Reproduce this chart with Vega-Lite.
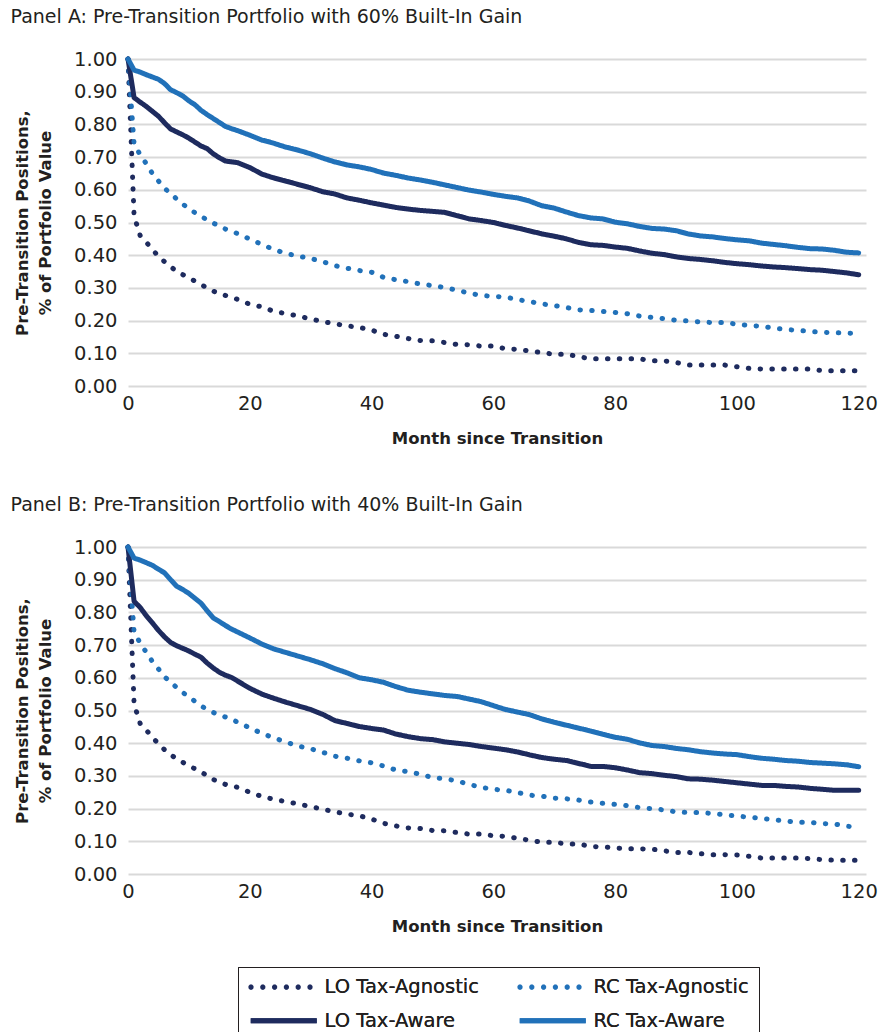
{
"$schema": "https://vega.github.io/schema/vega-lite/v6.json",
"background": "white",
"padding": {"left": 10, "top": 8, "right": 12, "bottom": 0},
"config": {
  "font": "DejaVu Sans",
  "view": {"stroke": null},
  "axis": {"labelFont": "DejaVu Sans", "labelFontSize": 19.5, "labelColor": "#231f20", "titleFont": "DejaVu Sans", "titleFontSize": 16.5, "titleFontWeight": "bold", "titleColor": "#231f20", "ticks": false, "domain": false, "gridColor": "#d9d9d9", "gridWidth": 2},
  "title": {"font": "DejaVu Sans", "fontSize": 19, "fontWeight": "normal", "color": "#231f20", "anchor": "start", "offset": 22, "dx": -4},
  "line": {"strokeCap": "round", "strokeJoin": "round", "strokeWidth": 5},
  "legend": {"title": null, "orient": "none", "legendX": 110, "legendY": 908, "columns": 2, "symbolType": "M-6.6,0H6.6", "symbolSize": 100, "symbolStrokeWidth": 5, "symbolOpacity": 1, "symbolOffset": 26, "labelOffset": 31, "labelFont": "DejaVu Sans", "labelFontSize": 19.5, "labelColor": "#231f20", "columnPadding": 38, "rowPadding": 13, "strokeColor": "#231f20", "padding": 10, "labelLimit": 300},
  "concat": {"spacing": 49}
},
"datasets": {
"panelA": [
{"series":"LO Tax-Agnostic","month":0,"value":1.0},{"series":"LO Tax-Agnostic","month":1,"value":0.52},{"series":"LO Tax-Agnostic","month":2,"value":0.46},{"series":"LO Tax-Agnostic","month":3,"value":0.44},{"series":"LO Tax-Agnostic","month":4,"value":0.417},{"series":"LO Tax-Agnostic","month":5,"value":0.397},{"series":"LO Tax-Agnostic","month":6,"value":0.38},{"series":"LO Tax-Agnostic","month":7,"value":0.365},{"series":"LO Tax-Agnostic","month":8,"value":0.35},{"series":"LO Tax-Agnostic","month":10,"value":0.331},{"series":"LO Tax-Agnostic","month":12,"value":0.31},{"series":"LO Tax-Agnostic","month":14,"value":0.29},{"series":"LO Tax-Agnostic","month":16,"value":0.277},{"series":"LO Tax-Agnostic","month":18,"value":0.265},{"series":"LO Tax-Agnostic","month":20,"value":0.25},{"series":"LO Tax-Agnostic","month":22,"value":0.242},{"series":"LO Tax-Agnostic","month":24,"value":0.228},{"series":"LO Tax-Agnostic","month":26,"value":0.221},{"series":"LO Tax-Agnostic","month":28,"value":0.214},{"series":"LO Tax-Agnostic","month":30,"value":0.205},{"series":"LO Tax-Agnostic","month":32,"value":0.197},{"series":"LO Tax-Agnostic","month":34,"value":0.19},{"series":"LO Tax-Agnostic","month":36,"value":0.184},{"series":"LO Tax-Agnostic","month":38,"value":0.179},{"series":"LO Tax-Agnostic","month":40,"value":0.171},{"series":"LO Tax-Agnostic","month":42,"value":0.158},{"series":"LO Tax-Agnostic","month":44,"value":0.152},{"series":"LO Tax-Agnostic","month":46,"value":0.145},{"series":"LO Tax-Agnostic","month":48,"value":0.139},{"series":"LO Tax-Agnostic","month":50,"value":0.138},{"series":"LO Tax-Agnostic","month":52,"value":0.133},{"series":"LO Tax-Agnostic","month":54,"value":0.127},{"series":"LO Tax-Agnostic","month":56,"value":0.126},{"series":"LO Tax-Agnostic","month":58,"value":0.122},{"series":"LO Tax-Agnostic","month":60,"value":0.122},{"series":"LO Tax-Agnostic","month":62,"value":0.114},{"series":"LO Tax-Agnostic","month":64,"value":0.112},{"series":"LO Tax-Agnostic","month":66,"value":0.107},{"series":"LO Tax-Agnostic","month":68,"value":0.102},{"series":"LO Tax-Agnostic","month":70,"value":0.097},{"series":"LO Tax-Agnostic","month":72,"value":0.097},{"series":"LO Tax-Agnostic","month":74,"value":0.09},{"series":"LO Tax-Agnostic","month":76,"value":0.083},{"series":"LO Tax-Agnostic","month":78,"value":0.083},{"series":"LO Tax-Agnostic","month":80,"value":0.083},{"series":"LO Tax-Agnostic","month":82,"value":0.083},{"series":"LO Tax-Agnostic","month":84,"value":0.083},{"series":"LO Tax-Agnostic","month":86,"value":0.077},{"series":"LO Tax-Agnostic","month":88,"value":0.077},{"series":"LO Tax-Agnostic","month":90,"value":0.072},{"series":"LO Tax-Agnostic","month":92,"value":0.064},{"series":"LO Tax-Agnostic","month":94,"value":0.064},{"series":"LO Tax-Agnostic","month":96,"value":0.064},{"series":"LO Tax-Agnostic","month":98,"value":0.064},{"series":"LO Tax-Agnostic","month":100,"value":0.059},{"series":"LO Tax-Agnostic","month":102,"value":0.054},{"series":"LO Tax-Agnostic","month":104,"value":0.052},{"series":"LO Tax-Agnostic","month":106,"value":0.052},{"series":"LO Tax-Agnostic","month":108,"value":0.052},{"series":"LO Tax-Agnostic","month":110,"value":0.052},{"series":"LO Tax-Agnostic","month":112,"value":0.052},{"series":"LO Tax-Agnostic","month":114,"value":0.047},{"series":"LO Tax-Agnostic","month":116,"value":0.047},{"series":"LO Tax-Agnostic","month":118,"value":0.047},{"series":"LO Tax-Agnostic","month":120,"value":0.047},
{"series":"RC Tax-Agnostic","month":0,"value":1.0},{"series":"RC Tax-Agnostic","month":1,"value":0.74},{"series":"RC Tax-Agnostic","month":2,"value":0.707},{"series":"RC Tax-Agnostic","month":3,"value":0.68},{"series":"RC Tax-Agnostic","month":4,"value":0.65},{"series":"RC Tax-Agnostic","month":5,"value":0.627},{"series":"RC Tax-Agnostic","month":6,"value":0.605},{"series":"RC Tax-Agnostic","month":7,"value":0.588},{"series":"RC Tax-Agnostic","month":8,"value":0.572},{"series":"RC Tax-Agnostic","month":9,"value":0.556},{"series":"RC Tax-Agnostic","month":10,"value":0.543},{"series":"RC Tax-Agnostic","month":11,"value":0.53},{"series":"RC Tax-Agnostic","month":12,"value":0.519},{"series":"RC Tax-Agnostic","month":13,"value":0.508},{"series":"RC Tax-Agnostic","month":14,"value":0.498},{"series":"RC Tax-Agnostic","month":15,"value":0.49},{"series":"RC Tax-Agnostic","month":16,"value":0.48},{"series":"RC Tax-Agnostic","month":17,"value":0.474},{"series":"RC Tax-Agnostic","month":18,"value":0.466},{"series":"RC Tax-Agnostic","month":19,"value":0.458},{"series":"RC Tax-Agnostic","month":20,"value":0.449},{"series":"RC Tax-Agnostic","month":22,"value":0.433},{"series":"RC Tax-Agnostic","month":24,"value":0.417},{"series":"RC Tax-Agnostic","month":26,"value":0.405},{"series":"RC Tax-Agnostic","month":28,"value":0.397},{"series":"RC Tax-Agnostic","month":30,"value":0.39},{"series":"RC Tax-Agnostic","month":32,"value":0.38},{"series":"RC Tax-Agnostic","month":34,"value":0.368},{"series":"RC Tax-Agnostic","month":36,"value":0.36},{"series":"RC Tax-Agnostic","month":38,"value":0.353},{"series":"RC Tax-Agnostic","month":40,"value":0.348},{"series":"RC Tax-Agnostic","month":42,"value":0.332},{"series":"RC Tax-Agnostic","month":44,"value":0.325},{"series":"RC Tax-Agnostic","month":46,"value":0.319},{"series":"RC Tax-Agnostic","month":48,"value":0.312},{"series":"RC Tax-Agnostic","month":50,"value":0.307},{"series":"RC Tax-Agnostic","month":52,"value":0.301},{"series":"RC Tax-Agnostic","month":54,"value":0.293},{"series":"RC Tax-Agnostic","month":56,"value":0.284},{"series":"RC Tax-Agnostic","month":58,"value":0.277},{"series":"RC Tax-Agnostic","month":60,"value":0.274},{"series":"RC Tax-Agnostic","month":62,"value":0.272},{"series":"RC Tax-Agnostic","month":64,"value":0.264},{"series":"RC Tax-Agnostic","month":66,"value":0.258},{"series":"RC Tax-Agnostic","month":68,"value":0.251},{"series":"RC Tax-Agnostic","month":70,"value":0.246},{"series":"RC Tax-Agnostic","month":72,"value":0.24},{"series":"RC Tax-Agnostic","month":74,"value":0.233},{"series":"RC Tax-Agnostic","month":76,"value":0.231},{"series":"RC Tax-Agnostic","month":78,"value":0.228},{"series":"RC Tax-Agnostic","month":80,"value":0.225},{"series":"RC Tax-Agnostic","month":82,"value":0.221},{"series":"RC Tax-Agnostic","month":84,"value":0.214},{"series":"RC Tax-Agnostic","month":86,"value":0.21},{"series":"RC Tax-Agnostic","month":88,"value":0.206},{"series":"RC Tax-Agnostic","month":90,"value":0.201},{"series":"RC Tax-Agnostic","month":92,"value":0.199},{"series":"RC Tax-Agnostic","month":94,"value":0.196},{"series":"RC Tax-Agnostic","month":96,"value":0.194},{"series":"RC Tax-Agnostic","month":98,"value":0.194},{"series":"RC Tax-Agnostic","month":100,"value":0.189},{"series":"RC Tax-Agnostic","month":102,"value":0.185},{"series":"RC Tax-Agnostic","month":104,"value":0.183},{"series":"RC Tax-Agnostic","month":106,"value":0.177},{"series":"RC Tax-Agnostic","month":108,"value":0.173},{"series":"RC Tax-Agnostic","month":110,"value":0.17},{"series":"RC Tax-Agnostic","month":112,"value":0.167},{"series":"RC Tax-Agnostic","month":114,"value":0.164},{"series":"RC Tax-Agnostic","month":116,"value":0.163},{"series":"RC Tax-Agnostic","month":119,"value":0.161},
{"series":"LO Tax-Aware","month":0,"value":1.0},{"series":"LO Tax-Aware","month":1,"value":0.882},{"series":"LO Tax-Aware","month":2,"value":0.868},{"series":"LO Tax-Aware","month":3,"value":0.855},{"series":"LO Tax-Aware","month":4,"value":0.84},{"series":"LO Tax-Aware","month":5,"value":0.825},{"series":"LO Tax-Aware","month":6,"value":0.805},{"series":"LO Tax-Aware","month":7,"value":0.786},{"series":"LO Tax-Aware","month":8,"value":0.777},{"series":"LO Tax-Aware","month":9,"value":0.768},{"series":"LO Tax-Aware","month":10,"value":0.758},{"series":"LO Tax-Aware","month":11,"value":0.746},{"series":"LO Tax-Aware","month":12,"value":0.734},{"series":"LO Tax-Aware","month":13,"value":0.726},{"series":"LO Tax-Aware","month":14,"value":0.71},{"series":"LO Tax-Aware","month":15,"value":0.698},{"series":"LO Tax-Aware","month":16,"value":0.688},{"series":"LO Tax-Aware","month":18,"value":0.683},{"series":"LO Tax-Aware","month":20,"value":0.668},{"series":"LO Tax-Aware","month":22,"value":0.648},{"series":"LO Tax-Aware","month":24,"value":0.636},{"series":"LO Tax-Aware","month":26,"value":0.626},{"series":"LO Tax-Aware","month":28,"value":0.616},{"series":"LO Tax-Aware","month":30,"value":0.606},{"series":"LO Tax-Aware","month":32,"value":0.594},{"series":"LO Tax-Aware","month":34,"value":0.587},{"series":"LO Tax-Aware","month":36,"value":0.575},{"series":"LO Tax-Aware","month":38,"value":0.568},{"series":"LO Tax-Aware","month":40,"value":0.56},{"series":"LO Tax-Aware","month":42,"value":0.553},{"series":"LO Tax-Aware","month":44,"value":0.546},{"series":"LO Tax-Aware","month":46,"value":0.541},{"series":"LO Tax-Aware","month":48,"value":0.537},{"series":"LO Tax-Aware","month":50,"value":0.534},{"series":"LO Tax-Aware","month":52,"value":0.531},{"series":"LO Tax-Aware","month":54,"value":0.521},{"series":"LO Tax-Aware","month":56,"value":0.511},{"series":"LO Tax-Aware","month":58,"value":0.506},{"series":"LO Tax-Aware","month":60,"value":0.5},{"series":"LO Tax-Aware","month":62,"value":0.491},{"series":"LO Tax-Aware","month":64,"value":0.483},{"series":"LO Tax-Aware","month":66,"value":0.474},{"series":"LO Tax-Aware","month":68,"value":0.465},{"series":"LO Tax-Aware","month":70,"value":0.458},{"series":"LO Tax-Aware","month":72,"value":0.45},{"series":"LO Tax-Aware","month":74,"value":0.439},{"series":"LO Tax-Aware","month":76,"value":0.432},{"series":"LO Tax-Aware","month":78,"value":0.43},{"series":"LO Tax-Aware","month":80,"value":0.425},{"series":"LO Tax-Aware","month":82,"value":0.421},{"series":"LO Tax-Aware","month":84,"value":0.413},{"series":"LO Tax-Aware","month":86,"value":0.406},{"series":"LO Tax-Aware","month":88,"value":0.402},{"series":"LO Tax-Aware","month":90,"value":0.395},{"series":"LO Tax-Aware","month":92,"value":0.39},{"series":"LO Tax-Aware","month":94,"value":0.387},{"series":"LO Tax-Aware","month":96,"value":0.383},{"series":"LO Tax-Aware","month":98,"value":0.378},{"series":"LO Tax-Aware","month":100,"value":0.374},{"series":"LO Tax-Aware","month":102,"value":0.371},{"series":"LO Tax-Aware","month":104,"value":0.367},{"series":"LO Tax-Aware","month":106,"value":0.364},{"series":"LO Tax-Aware","month":108,"value":0.362},{"series":"LO Tax-Aware","month":110,"value":0.359},{"series":"LO Tax-Aware","month":112,"value":0.356},{"series":"LO Tax-Aware","month":114,"value":0.354},{"series":"LO Tax-Aware","month":116,"value":0.35},{"series":"LO Tax-Aware","month":118,"value":0.346},{"series":"LO Tax-Aware","month":120,"value":0.34},
{"series":"RC Tax-Aware","month":0,"value":1.0},{"series":"RC Tax-Aware","month":1,"value":0.966},{"series":"RC Tax-Aware","month":2,"value":0.96},{"series":"RC Tax-Aware","month":3,"value":0.952},{"series":"RC Tax-Aware","month":4,"value":0.945},{"series":"RC Tax-Aware","month":5,"value":0.938},{"series":"RC Tax-Aware","month":6,"value":0.925},{"series":"RC Tax-Aware","month":7,"value":0.906},{"series":"RC Tax-Aware","month":8,"value":0.897},{"series":"RC Tax-Aware","month":9,"value":0.887},{"series":"RC Tax-Aware","month":10,"value":0.872},{"series":"RC Tax-Aware","month":11,"value":0.86},{"series":"RC Tax-Aware","month":12,"value":0.843},{"series":"RC Tax-Aware","month":13,"value":0.83},{"series":"RC Tax-Aware","month":14,"value":0.818},{"series":"RC Tax-Aware","month":15,"value":0.806},{"series":"RC Tax-Aware","month":16,"value":0.794},{"series":"RC Tax-Aware","month":17,"value":0.787},{"series":"RC Tax-Aware","month":18,"value":0.781},{"series":"RC Tax-Aware","month":20,"value":0.767},{"series":"RC Tax-Aware","month":22,"value":0.752},{"series":"RC Tax-Aware","month":24,"value":0.742},{"series":"RC Tax-Aware","month":26,"value":0.73},{"series":"RC Tax-Aware","month":28,"value":0.721},{"series":"RC Tax-Aware","month":30,"value":0.71},{"series":"RC Tax-Aware","month":32,"value":0.697},{"series":"RC Tax-Aware","month":34,"value":0.685},{"series":"RC Tax-Aware","month":36,"value":0.676},{"series":"RC Tax-Aware","month":38,"value":0.67},{"series":"RC Tax-Aware","month":40,"value":0.662},{"series":"RC Tax-Aware","month":42,"value":0.651},{"series":"RC Tax-Aware","month":44,"value":0.644},{"series":"RC Tax-Aware","month":46,"value":0.636},{"series":"RC Tax-Aware","month":48,"value":0.63},{"series":"RC Tax-Aware","month":50,"value":0.623},{"series":"RC Tax-Aware","month":52,"value":0.615},{"series":"RC Tax-Aware","month":54,"value":0.607},{"series":"RC Tax-Aware","month":56,"value":0.599},{"series":"RC Tax-Aware","month":58,"value":0.593},{"series":"RC Tax-Aware","month":60,"value":0.586},{"series":"RC Tax-Aware","month":62,"value":0.58},{"series":"RC Tax-Aware","month":64,"value":0.575},{"series":"RC Tax-Aware","month":66,"value":0.565},{"series":"RC Tax-Aware","month":68,"value":0.551},{"series":"RC Tax-Aware","month":70,"value":0.544},{"series":"RC Tax-Aware","month":72,"value":0.532},{"series":"RC Tax-Aware","month":74,"value":0.521},{"series":"RC Tax-Aware","month":76,"value":0.514},{"series":"RC Tax-Aware","month":78,"value":0.511},{"series":"RC Tax-Aware","month":80,"value":0.501},{"series":"RC Tax-Aware","month":82,"value":0.496},{"series":"RC Tax-Aware","month":84,"value":0.488},{"series":"RC Tax-Aware","month":86,"value":0.482},{"series":"RC Tax-Aware","month":88,"value":0.48},{"series":"RC Tax-Aware","month":90,"value":0.475},{"series":"RC Tax-Aware","month":92,"value":0.465},{"series":"RC Tax-Aware","month":94,"value":0.459},{"series":"RC Tax-Aware","month":96,"value":0.456},{"series":"RC Tax-Aware","month":98,"value":0.451},{"series":"RC Tax-Aware","month":100,"value":0.447},{"series":"RC Tax-Aware","month":102,"value":0.444},{"series":"RC Tax-Aware","month":104,"value":0.437},{"series":"RC Tax-Aware","month":106,"value":0.433},{"series":"RC Tax-Aware","month":108,"value":0.429},{"series":"RC Tax-Aware","month":110,"value":0.424},{"series":"RC Tax-Aware","month":112,"value":0.42},{"series":"RC Tax-Aware","month":114,"value":0.419},{"series":"RC Tax-Aware","month":116,"value":0.415},{"series":"RC Tax-Aware","month":118,"value":0.409},{"series":"RC Tax-Aware","month":120,"value":0.407}
],
"panelB": [
{"series":"LO Tax-Agnostic","month":0,"value":1.0},{"series":"LO Tax-Agnostic","month":1,"value":0.52},{"series":"LO Tax-Agnostic","month":2,"value":0.46},{"series":"LO Tax-Agnostic","month":3,"value":0.44},{"series":"LO Tax-Agnostic","month":4,"value":0.418},{"series":"LO Tax-Agnostic","month":5,"value":0.398},{"series":"LO Tax-Agnostic","month":6,"value":0.38},{"series":"LO Tax-Agnostic","month":7,"value":0.365},{"series":"LO Tax-Agnostic","month":8,"value":0.352},{"series":"LO Tax-Agnostic","month":10,"value":0.331},{"series":"LO Tax-Agnostic","month":12,"value":0.312},{"series":"LO Tax-Agnostic","month":14,"value":0.289},{"series":"LO Tax-Agnostic","month":16,"value":0.274},{"series":"LO Tax-Agnostic","month":18,"value":0.265},{"series":"LO Tax-Agnostic","month":20,"value":0.25},{"series":"LO Tax-Agnostic","month":22,"value":0.237},{"series":"LO Tax-Agnostic","month":24,"value":0.228},{"series":"LO Tax-Agnostic","month":26,"value":0.221},{"series":"LO Tax-Agnostic","month":28,"value":0.214},{"series":"LO Tax-Agnostic","month":30,"value":0.206},{"series":"LO Tax-Agnostic","month":32,"value":0.198},{"series":"LO Tax-Agnostic","month":34,"value":0.19},{"series":"LO Tax-Agnostic","month":36,"value":0.183},{"series":"LO Tax-Agnostic","month":38,"value":0.178},{"series":"LO Tax-Agnostic","month":40,"value":0.168},{"series":"LO Tax-Agnostic","month":42,"value":0.155},{"series":"LO Tax-Agnostic","month":44,"value":0.147},{"series":"LO Tax-Agnostic","month":46,"value":0.141},{"series":"LO Tax-Agnostic","month":48,"value":0.139},{"series":"LO Tax-Agnostic","month":50,"value":0.133},{"series":"LO Tax-Agnostic","month":52,"value":0.132},{"series":"LO Tax-Agnostic","month":54,"value":0.127},{"series":"LO Tax-Agnostic","month":56,"value":0.122},{"series":"LO Tax-Agnostic","month":58,"value":0.122},{"series":"LO Tax-Agnostic","month":60,"value":0.117},{"series":"LO Tax-Agnostic","month":62,"value":0.115},{"series":"LO Tax-Agnostic","month":64,"value":0.109},{"series":"LO Tax-Agnostic","month":66,"value":0.103},{"series":"LO Tax-Agnostic","month":68,"value":0.097},{"series":"LO Tax-Agnostic","month":70,"value":0.097},{"series":"LO Tax-Agnostic","month":72,"value":0.092},{"series":"LO Tax-Agnostic","month":74,"value":0.092},{"series":"LO Tax-Agnostic","month":76,"value":0.084},{"series":"LO Tax-Agnostic","month":78,"value":0.083},{"series":"LO Tax-Agnostic","month":80,"value":0.08},{"series":"LO Tax-Agnostic","month":82,"value":0.077},{"series":"LO Tax-Agnostic","month":84,"value":0.077},{"series":"LO Tax-Agnostic","month":86,"value":0.076},{"series":"LO Tax-Agnostic","month":88,"value":0.071},{"series":"LO Tax-Agnostic","month":90,"value":0.066},{"series":"LO Tax-Agnostic","month":92,"value":0.066},{"series":"LO Tax-Agnostic","month":94,"value":0.062},{"series":"LO Tax-Agnostic","month":96,"value":0.059},{"series":"LO Tax-Agnostic","month":98,"value":0.059},{"series":"LO Tax-Agnostic","month":100,"value":0.058},{"series":"LO Tax-Agnostic","month":102,"value":0.054},{"series":"LO Tax-Agnostic","month":104,"value":0.049},{"series":"LO Tax-Agnostic","month":106,"value":0.049},{"series":"LO Tax-Agnostic","month":108,"value":0.049},{"series":"LO Tax-Agnostic","month":110,"value":0.049},{"series":"LO Tax-Agnostic","month":112,"value":0.047},{"series":"LO Tax-Agnostic","month":114,"value":0.044},{"series":"LO Tax-Agnostic","month":116,"value":0.042},{"series":"LO Tax-Agnostic","month":118,"value":0.042},{"series":"LO Tax-Agnostic","month":120,"value":0.042},
{"series":"RC Tax-Agnostic","month":0,"value":1.0},{"series":"RC Tax-Agnostic","month":1,"value":0.74},{"series":"RC Tax-Agnostic","month":2,"value":0.706},{"series":"RC Tax-Agnostic","month":3,"value":0.678},{"series":"RC Tax-Agnostic","month":4,"value":0.65},{"series":"RC Tax-Agnostic","month":5,"value":0.627},{"series":"RC Tax-Agnostic","month":6,"value":0.603},{"series":"RC Tax-Agnostic","month":7,"value":0.587},{"series":"RC Tax-Agnostic","month":8,"value":0.57},{"series":"RC Tax-Agnostic","month":9,"value":0.555},{"series":"RC Tax-Agnostic","month":10,"value":0.542},{"series":"RC Tax-Agnostic","month":11,"value":0.528},{"series":"RC Tax-Agnostic","month":12,"value":0.514},{"series":"RC Tax-Agnostic","month":13,"value":0.503},{"series":"RC Tax-Agnostic","month":14,"value":0.494},{"series":"RC Tax-Agnostic","month":15,"value":0.487},{"series":"RC Tax-Agnostic","month":16,"value":0.48},{"series":"RC Tax-Agnostic","month":17,"value":0.474},{"series":"RC Tax-Agnostic","month":18,"value":0.464},{"series":"RC Tax-Agnostic","month":19,"value":0.456},{"series":"RC Tax-Agnostic","month":20,"value":0.447},{"series":"RC Tax-Agnostic","month":22,"value":0.43},{"series":"RC Tax-Agnostic","month":24,"value":0.416},{"series":"RC Tax-Agnostic","month":26,"value":0.403},{"series":"RC Tax-Agnostic","month":28,"value":0.391},{"series":"RC Tax-Agnostic","month":30,"value":0.383},{"series":"RC Tax-Agnostic","month":32,"value":0.372},{"series":"RC Tax-Agnostic","month":34,"value":0.36},{"series":"RC Tax-Agnostic","month":36,"value":0.354},{"series":"RC Tax-Agnostic","month":38,"value":0.346},{"series":"RC Tax-Agnostic","month":40,"value":0.34},{"series":"RC Tax-Agnostic","month":42,"value":0.33},{"series":"RC Tax-Agnostic","month":44,"value":0.318},{"series":"RC Tax-Agnostic","month":46,"value":0.313},{"series":"RC Tax-Agnostic","month":48,"value":0.305},{"series":"RC Tax-Agnostic","month":50,"value":0.295},{"series":"RC Tax-Agnostic","month":52,"value":0.291},{"series":"RC Tax-Agnostic","month":54,"value":0.285},{"series":"RC Tax-Agnostic","month":56,"value":0.274},{"series":"RC Tax-Agnostic","month":58,"value":0.265},{"series":"RC Tax-Agnostic","month":60,"value":0.259},{"series":"RC Tax-Agnostic","month":62,"value":0.256},{"series":"RC Tax-Agnostic","month":64,"value":0.249},{"series":"RC Tax-Agnostic","month":66,"value":0.241},{"series":"RC Tax-Agnostic","month":68,"value":0.238},{"series":"RC Tax-Agnostic","month":70,"value":0.232},{"series":"RC Tax-Agnostic","month":72,"value":0.23},{"series":"RC Tax-Agnostic","month":74,"value":0.226},{"series":"RC Tax-Agnostic","month":76,"value":0.22},{"series":"RC Tax-Agnostic","month":78,"value":0.216},{"series":"RC Tax-Agnostic","month":80,"value":0.213},{"series":"RC Tax-Agnostic","month":82,"value":0.209},{"series":"RC Tax-Agnostic","month":84,"value":0.203},{"series":"RC Tax-Agnostic","month":86,"value":0.2},{"series":"RC Tax-Agnostic","month":88,"value":0.196},{"series":"RC Tax-Agnostic","month":90,"value":0.19},{"series":"RC Tax-Agnostic","month":92,"value":0.188},{"series":"RC Tax-Agnostic","month":94,"value":0.188},{"series":"RC Tax-Agnostic","month":96,"value":0.185},{"series":"RC Tax-Agnostic","month":98,"value":0.181},{"series":"RC Tax-Agnostic","month":100,"value":0.177},{"series":"RC Tax-Agnostic","month":102,"value":0.174},{"series":"RC Tax-Agnostic","month":104,"value":0.17},{"series":"RC Tax-Agnostic","month":106,"value":0.166},{"series":"RC Tax-Agnostic","month":108,"value":0.162},{"series":"RC Tax-Agnostic","month":110,"value":0.158},{"series":"RC Tax-Agnostic","month":112,"value":0.158},{"series":"RC Tax-Agnostic","month":114,"value":0.154},{"series":"RC Tax-Agnostic","month":116,"value":0.153},{"series":"RC Tax-Agnostic","month":118,"value":0.146},{"series":"RC Tax-Agnostic","month":119,"value":0.145},
{"series":"LO Tax-Aware","month":0,"value":1.0},{"series":"LO Tax-Aware","month":1,"value":0.834},{"series":"LO Tax-Aware","month":2,"value":0.815},{"series":"LO Tax-Aware","month":3,"value":0.79},{"series":"LO Tax-Aware","month":4,"value":0.768},{"series":"LO Tax-Aware","month":5,"value":0.745},{"series":"LO Tax-Aware","month":6,"value":0.725},{"series":"LO Tax-Aware","month":7,"value":0.708},{"series":"LO Tax-Aware","month":8,"value":0.698},{"series":"LO Tax-Aware","month":9,"value":0.69},{"series":"LO Tax-Aware","month":10,"value":0.682},{"series":"LO Tax-Aware","month":11,"value":0.672},{"series":"LO Tax-Aware","month":12,"value":0.663},{"series":"LO Tax-Aware","month":13,"value":0.645},{"series":"LO Tax-Aware","month":14,"value":0.63},{"series":"LO Tax-Aware","month":15,"value":0.617},{"series":"LO Tax-Aware","month":16,"value":0.608},{"series":"LO Tax-Aware","month":17,"value":0.601},{"series":"LO Tax-Aware","month":18,"value":0.59},{"series":"LO Tax-Aware","month":20,"value":0.568},{"series":"LO Tax-Aware","month":22,"value":0.55},{"series":"LO Tax-Aware","month":24,"value":0.537},{"series":"LO Tax-Aware","month":26,"value":0.525},{"series":"LO Tax-Aware","month":28,"value":0.514},{"series":"LO Tax-Aware","month":30,"value":0.503},{"series":"LO Tax-Aware","month":32,"value":0.488},{"series":"LO Tax-Aware","month":34,"value":0.469},{"series":"LO Tax-Aware","month":36,"value":0.46},{"series":"LO Tax-Aware","month":38,"value":0.451},{"series":"LO Tax-Aware","month":40,"value":0.445},{"series":"LO Tax-Aware","month":42,"value":0.44},{"series":"LO Tax-Aware","month":44,"value":0.428},{"series":"LO Tax-Aware","month":46,"value":0.42},{"series":"LO Tax-Aware","month":48,"value":0.414},{"series":"LO Tax-Aware","month":50,"value":0.411},{"series":"LO Tax-Aware","month":52,"value":0.404},{"series":"LO Tax-Aware","month":54,"value":0.4},{"series":"LO Tax-Aware","month":56,"value":0.396},{"series":"LO Tax-Aware","month":58,"value":0.39},{"series":"LO Tax-Aware","month":60,"value":0.385},{"series":"LO Tax-Aware","month":62,"value":0.38},{"series":"LO Tax-Aware","month":64,"value":0.373},{"series":"LO Tax-Aware","month":66,"value":0.364},{"series":"LO Tax-Aware","month":68,"value":0.356},{"series":"LO Tax-Aware","month":70,"value":0.351},{"series":"LO Tax-Aware","month":72,"value":0.347},{"series":"LO Tax-Aware","month":74,"value":0.338},{"series":"LO Tax-Aware","month":76,"value":0.329},{"series":"LO Tax-Aware","month":78,"value":0.329},{"series":"LO Tax-Aware","month":80,"value":0.325},{"series":"LO Tax-Aware","month":82,"value":0.318},{"series":"LO Tax-Aware","month":84,"value":0.31},{"series":"LO Tax-Aware","month":86,"value":0.307},{"series":"LO Tax-Aware","month":88,"value":0.302},{"series":"LO Tax-Aware","month":90,"value":0.298},{"series":"LO Tax-Aware","month":92,"value":0.291},{"series":"LO Tax-Aware","month":94,"value":0.29},{"series":"LO Tax-Aware","month":96,"value":0.287},{"series":"LO Tax-Aware","month":98,"value":0.283},{"series":"LO Tax-Aware","month":100,"value":0.279},{"series":"LO Tax-Aware","month":102,"value":0.275},{"series":"LO Tax-Aware","month":104,"value":0.271},{"series":"LO Tax-Aware","month":106,"value":0.271},{"series":"LO Tax-Aware","month":108,"value":0.268},{"series":"LO Tax-Aware","month":110,"value":0.266},{"series":"LO Tax-Aware","month":112,"value":0.262},{"series":"LO Tax-Aware","month":114,"value":0.259},{"series":"LO Tax-Aware","month":116,"value":0.256},{"series":"LO Tax-Aware","month":118,"value":0.256},{"series":"LO Tax-Aware","month":120,"value":0.256},
{"series":"RC Tax-Aware","month":0,"value":1.0},{"series":"RC Tax-Aware","month":1,"value":0.966},{"series":"RC Tax-Aware","month":2,"value":0.96},{"series":"RC Tax-Aware","month":3,"value":0.952},{"series":"RC Tax-Aware","month":4,"value":0.944},{"series":"RC Tax-Aware","month":5,"value":0.932},{"series":"RC Tax-Aware","month":6,"value":0.921},{"series":"RC Tax-Aware","month":7,"value":0.9},{"series":"RC Tax-Aware","month":8,"value":0.88},{"series":"RC Tax-Aware","month":9,"value":0.87},{"series":"RC Tax-Aware","month":10,"value":0.858},{"series":"RC Tax-Aware","month":11,"value":0.843},{"series":"RC Tax-Aware","month":12,"value":0.828},{"series":"RC Tax-Aware","month":13,"value":0.805},{"series":"RC Tax-Aware","month":14,"value":0.783},{"series":"RC Tax-Aware","month":15,"value":0.772},{"series":"RC Tax-Aware","month":16,"value":0.76},{"series":"RC Tax-Aware","month":17,"value":0.749},{"series":"RC Tax-Aware","month":18,"value":0.74},{"series":"RC Tax-Aware","month":20,"value":0.722},{"series":"RC Tax-Aware","month":22,"value":0.703},{"series":"RC Tax-Aware","month":24,"value":0.688},{"series":"RC Tax-Aware","month":26,"value":0.677},{"series":"RC Tax-Aware","month":28,"value":0.666},{"series":"RC Tax-Aware","month":30,"value":0.655},{"series":"RC Tax-Aware","month":32,"value":0.643},{"series":"RC Tax-Aware","month":34,"value":0.628},{"series":"RC Tax-Aware","month":36,"value":0.615},{"series":"RC Tax-Aware","month":38,"value":0.6},{"series":"RC Tax-Aware","month":40,"value":0.594},{"series":"RC Tax-Aware","month":42,"value":0.586},{"series":"RC Tax-Aware","month":44,"value":0.573},{"series":"RC Tax-Aware","month":46,"value":0.562},{"series":"RC Tax-Aware","month":48,"value":0.556},{"series":"RC Tax-Aware","month":50,"value":0.551},{"series":"RC Tax-Aware","month":52,"value":0.546},{"series":"RC Tax-Aware","month":54,"value":0.543},{"series":"RC Tax-Aware","month":56,"value":0.535},{"series":"RC Tax-Aware","month":58,"value":0.527},{"series":"RC Tax-Aware","month":60,"value":0.515},{"series":"RC Tax-Aware","month":62,"value":0.503},{"series":"RC Tax-Aware","month":64,"value":0.495},{"series":"RC Tax-Aware","month":66,"value":0.487},{"series":"RC Tax-Aware","month":68,"value":0.474},{"series":"RC Tax-Aware","month":70,"value":0.464},{"series":"RC Tax-Aware","month":72,"value":0.455},{"series":"RC Tax-Aware","month":74,"value":0.446},{"series":"RC Tax-Aware","month":76,"value":0.437},{"series":"RC Tax-Aware","month":78,"value":0.427},{"series":"RC Tax-Aware","month":80,"value":0.418},{"series":"RC Tax-Aware","month":82,"value":0.412},{"series":"RC Tax-Aware","month":84,"value":0.401},{"series":"RC Tax-Aware","month":86,"value":0.393},{"series":"RC Tax-Aware","month":88,"value":0.39},{"series":"RC Tax-Aware","month":90,"value":0.384},{"series":"RC Tax-Aware","month":92,"value":0.38},{"series":"RC Tax-Aware","month":94,"value":0.374},{"series":"RC Tax-Aware","month":96,"value":0.37},{"series":"RC Tax-Aware","month":98,"value":0.367},{"series":"RC Tax-Aware","month":100,"value":0.365},{"series":"RC Tax-Aware","month":102,"value":0.359},{"series":"RC Tax-Aware","month":104,"value":0.354},{"series":"RC Tax-Aware","month":106,"value":0.351},{"series":"RC Tax-Aware","month":108,"value":0.347},{"series":"RC Tax-Aware","month":110,"value":0.345},{"series":"RC Tax-Aware","month":112,"value":0.341},{"series":"RC Tax-Aware","month":114,"value":0.339},{"series":"RC Tax-Aware","month":116,"value":0.337},{"series":"RC Tax-Aware","month":118,"value":0.334},{"series":"RC Tax-Aware","month":120,"value":0.328}
]
},
"vconcat": [
{
  "title": {"text": "Panel A: Pre-Transition Portfolio with 60% Built-In Gain"},
  "width": 738, "height": 327,
  "data": {"name": "panelA"},
  "encoding": {
    "x": {"field": "month", "type": "quantitative", "scale": {"domain": [0, 121.2], "nice": false, "zero": false}, "axis": {"values": [0,20,40,60,80,100,120], "grid": false, "title": "Month since Transition", "labelPadding": 8, "titlePadding": 18, "labelFlush": false}},
    "y": {"field": "value", "type": "quantitative", "scale": {"domain": [0, 1], "nice": false}, "axis": {"values": [0,0.1,0.2,0.3,0.4,0.5,0.6,0.7,0.8,0.9,1], "format": ".2f", "title": ["Pre-Transition Positions,", "% of Portfolio Value"], "labelPadding": 11, "titlePadding": 20, "titleLineHeight": 23}}
  },
  "layer": [
    {
      "mark": {"type": "line", "strokeCap": "round", "strokeJoin": "round"},
      "encoding": {
        "color": {"field": "series", "type": "nominal", "scale": {"domain": ["LO Tax-Agnostic", "LO Tax-Aware", "RC Tax-Agnostic", "RC Tax-Aware"], "range": ["#1e2b5e", "#1e2b5e", "#2171b9", "#2171b9"]}, "legend": {"encode": {"symbols": {"strokeCap": {"value": "round"}}}}},
        "strokeDash": {"field": "series", "type": "nominal", "scale": {"domain": ["LO Tax-Agnostic", "LO Tax-Aware", "RC Tax-Agnostic", "RC Tax-Aware"], "range": [[0.5, 11.3], [1, 0], [0.5, 11.3], [1, 0]]}, "legend": {"encode": {"symbols": {"strokeCap": {"value": "round"}}}}}
      }
    },
    {
      "transform": [{"filter": "false"}],
      "mark": {"type": "point", "filled": true, "opacity": 1},
      "encoding": {
        "fill": {"field": "series", "type": "nominal", "scale": {"domain": ["RC Tax-Aware", "RC Tax-Agnostic", "LO Tax-Aware", "LO Tax-Agnostic"], "range": ["#2171b9", "#2171b9", "#1e2b5e", "#1e2b5e"]}, "legend": {"values": ["LO Tax-Agnostic", "LO Tax-Aware", "RC Tax-Agnostic", "RC Tax-Aware"], "symbolStrokeWidth": 0}},
        "shape": {"field": "series", "type": "nominal", "scale": {"domain": ["RC Tax-Aware", "RC Tax-Agnostic", "LO Tax-Aware", "LO Tax-Agnostic"], "range": [
          "M-6.6,-0.5L6.6,-0.5L6.6,0.5L-6.6,0.5Z",
          "M-6.042,0.21L-6.34,0.508L-6.76,0.508L-7.058,0.21L-7.058,-0.21L-6.76,-0.508L-6.34,-0.508L-6.042,-0.21ZM-3.682,0.21L-3.98,0.508L-4.4,0.508L-4.698,0.21L-4.698,-0.21L-4.4,-0.508L-3.98,-0.508L-3.682,-0.21ZM-1.322,0.21L-1.62,0.508L-2.04,0.508L-2.338,0.21L-2.338,-0.21L-2.04,-0.508L-1.62,-0.508L-1.322,-0.21ZM1.038,0.21L0.74,0.508L0.32,0.508L0.022,0.21L0.022,-0.21L0.32,-0.508L0.74,-0.508L1.038,-0.21ZM3.398,0.21L3.1,0.508L2.68,0.508L2.382,0.21L2.382,-0.21L2.68,-0.508L3.1,-0.508L3.398,-0.21ZM5.758,0.21L5.46,0.508L5.04,0.508L4.742,0.21L4.742,-0.21L5.04,-0.508L5.46,-0.508L5.758,-0.21Z",
          "M-6.6,-0.5L6.6,-0.5L6.6,0.5L-6.6,0.5Z",
          "M-6.042,0.21L-6.34,0.508L-6.76,0.508L-7.058,0.21L-7.058,-0.21L-6.76,-0.508L-6.34,-0.508L-6.042,-0.21ZM-3.682,0.21L-3.98,0.508L-4.4,0.508L-4.698,0.21L-4.698,-0.21L-4.4,-0.508L-3.98,-0.508L-3.682,-0.21ZM-1.322,0.21L-1.62,0.508L-2.04,0.508L-2.338,0.21L-2.338,-0.21L-2.04,-0.508L-1.62,-0.508L-1.322,-0.21ZM1.038,0.21L0.74,0.508L0.32,0.508L0.022,0.21L0.022,-0.21L0.32,-0.508L0.74,-0.508L1.038,-0.21ZM3.398,0.21L3.1,0.508L2.68,0.508L2.382,0.21L2.382,-0.21L2.68,-0.508L3.1,-0.508L3.398,-0.21ZM5.758,0.21L5.46,0.508L5.04,0.508L4.742,0.21L4.742,-0.21L5.04,-0.508L5.46,-0.508L5.758,-0.21Z"]}, "legend": {"values": ["LO Tax-Agnostic", "LO Tax-Aware", "RC Tax-Agnostic", "RC Tax-Aware"], "symbolStrokeWidth": 0}}
      }
    }
  ]
},
{
  "title": {"text": "Panel B: Pre-Transition Portfolio with 40% Built-In Gain"},
  "width": 738, "height": 327,
  "data": {"name": "panelB"},
  "encoding": {
    "x": {"field": "month", "type": "quantitative", "scale": {"domain": [0, 121.2], "nice": false, "zero": false}, "axis": {"values": [0,20,40,60,80,100,120], "grid": false, "title": "Month since Transition", "labelPadding": 8, "titlePadding": 18, "labelFlush": false}},
    "y": {"field": "value", "type": "quantitative", "scale": {"domain": [0, 1], "nice": false}, "axis": {"values": [0,0.1,0.2,0.3,0.4,0.5,0.6,0.7,0.8,0.9,1], "format": ".2f", "title": ["Pre-Transition Positions,", "% of Portfolio Value"], "labelPadding": 11, "titlePadding": 20, "titleLineHeight": 23}}
  },
  "layer": [
    {
      "mark": {"type": "line", "strokeCap": "round", "strokeJoin": "round"},
      "encoding": {
        "color": {"field": "series", "type": "nominal", "scale": {"domain": ["LO Tax-Agnostic", "LO Tax-Aware", "RC Tax-Agnostic", "RC Tax-Aware"], "range": ["#1e2b5e", "#1e2b5e", "#2171b9", "#2171b9"]}, "legend": {"encode": {"symbols": {"strokeCap": {"value": "round"}}}}},
        "strokeDash": {"field": "series", "type": "nominal", "scale": {"domain": ["LO Tax-Agnostic", "LO Tax-Aware", "RC Tax-Agnostic", "RC Tax-Aware"], "range": [[0.5, 11.3], [1, 0], [0.5, 11.3], [1, 0]]}, "legend": {"encode": {"symbols": {"strokeCap": {"value": "round"}}}}}
      }
    },
    {
      "transform": [{"filter": "false"}],
      "mark": {"type": "point", "filled": true, "opacity": 1},
      "encoding": {
        "fill": {"field": "series", "type": "nominal", "scale": {"domain": ["RC Tax-Aware", "RC Tax-Agnostic", "LO Tax-Aware", "LO Tax-Agnostic"], "range": ["#2171b9", "#2171b9", "#1e2b5e", "#1e2b5e"]}, "legend": {"values": ["LO Tax-Agnostic", "LO Tax-Aware", "RC Tax-Agnostic", "RC Tax-Aware"], "symbolStrokeWidth": 0}},
        "shape": {"field": "series", "type": "nominal", "scale": {"domain": ["RC Tax-Aware", "RC Tax-Agnostic", "LO Tax-Aware", "LO Tax-Agnostic"], "range": [
          "M-6.6,-0.5L6.6,-0.5L6.6,0.5L-6.6,0.5Z",
          "M-6.042,0.21L-6.34,0.508L-6.76,0.508L-7.058,0.21L-7.058,-0.21L-6.76,-0.508L-6.34,-0.508L-6.042,-0.21ZM-3.682,0.21L-3.98,0.508L-4.4,0.508L-4.698,0.21L-4.698,-0.21L-4.4,-0.508L-3.98,-0.508L-3.682,-0.21ZM-1.322,0.21L-1.62,0.508L-2.04,0.508L-2.338,0.21L-2.338,-0.21L-2.04,-0.508L-1.62,-0.508L-1.322,-0.21ZM1.038,0.21L0.74,0.508L0.32,0.508L0.022,0.21L0.022,-0.21L0.32,-0.508L0.74,-0.508L1.038,-0.21ZM3.398,0.21L3.1,0.508L2.68,0.508L2.382,0.21L2.382,-0.21L2.68,-0.508L3.1,-0.508L3.398,-0.21ZM5.758,0.21L5.46,0.508L5.04,0.508L4.742,0.21L4.742,-0.21L5.04,-0.508L5.46,-0.508L5.758,-0.21Z",
          "M-6.6,-0.5L6.6,-0.5L6.6,0.5L-6.6,0.5Z",
          "M-6.042,0.21L-6.34,0.508L-6.76,0.508L-7.058,0.21L-7.058,-0.21L-6.76,-0.508L-6.34,-0.508L-6.042,-0.21ZM-3.682,0.21L-3.98,0.508L-4.4,0.508L-4.698,0.21L-4.698,-0.21L-4.4,-0.508L-3.98,-0.508L-3.682,-0.21ZM-1.322,0.21L-1.62,0.508L-2.04,0.508L-2.338,0.21L-2.338,-0.21L-2.04,-0.508L-1.62,-0.508L-1.322,-0.21ZM1.038,0.21L0.74,0.508L0.32,0.508L0.022,0.21L0.022,-0.21L0.32,-0.508L0.74,-0.508L1.038,-0.21ZM3.398,0.21L3.1,0.508L2.68,0.508L2.382,0.21L2.382,-0.21L2.68,-0.508L3.1,-0.508L3.398,-0.21ZM5.758,0.21L5.46,0.508L5.04,0.508L4.742,0.21L4.742,-0.21L5.04,-0.508L5.46,-0.508L5.758,-0.21Z"]}, "legend": {"values": ["LO Tax-Agnostic", "LO Tax-Aware", "RC Tax-Agnostic", "RC Tax-Aware"], "symbolStrokeWidth": 0}}
      }
    }
  ]
}
]
}
